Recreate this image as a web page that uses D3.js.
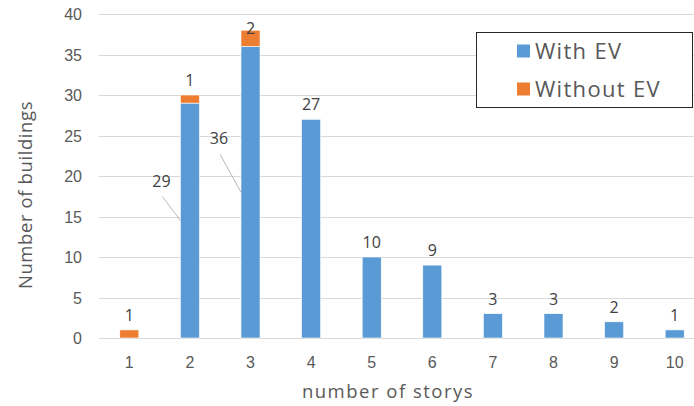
<!DOCTYPE html>
<html>
<head>
<meta charset="utf-8">
<script src="https://cdn.jsdelivr.net/npm/d3@7/dist/d3.min.js"></script>
<style>
  html, body { margin: 0; padding: 0; background: #fff; }
  svg { display: block; font-family: "Open Sans", "Noto Sans", sans-serif; }
</style>
</head>
<body>
<svg id="chart" width="694" height="406"></svg>
<script>
// Building counts by number of storys
const stories = ["1", "2", "3", "4", "5", "6", "7", "8", "9", "10"];
const withEV = [0, 29, 36, 27, 10, 9, 3, 3, 2, 1];
const withoutEV = [1, 1, 2, 0, 0, 0, 0, 0, 0, 0];
const seriesNames = ["With EV", "Without EV"];
const yTicks = [0, 5, 10, 15, 20, 25, 30, 35, 40];

const colors = { "With EV": "#5B9BD5", "Without EV": "#ED7D31" };

const svg = d3.select("#chart");
const W = 694, H = 406;
const plot = { left: 99, right: 705, top: 14, bottom: 338 };

const x = d3.scaleBand().domain(stories).range([plot.left, plot.right]).paddingInner(0.686).paddingOuter(0.343);
const y = d3.scaleLinear().domain([0, 40]).range([plot.bottom, plot.top]);

// gridlines
svg.append("g").selectAll("line").data(yTicks).join("line")
  .attr("x1", plot.left).attr("x2", W)
  .attr("y1", d => Math.round(y(d)) + 0.5).attr("y2", d => Math.round(y(d)) + 0.5)
  .attr("stroke", "#D9D9D9").attr("stroke-width", 1);

// y axis labels
const yAxis = svg.append("g").attr("transform", `translate(82,0)`)
  .call(d3.axisLeft(y).tickValues(yTicks).tickSize(0).tickPadding(0));
yAxis.select(".domain").remove();
yAxis.selectAll("text").attr("fill", "#595959").attr("font-size", 16).attr("dy", "0.35em");

// x axis labels
const xAxis = svg.append("g").attr("transform", `translate(0,${plot.bottom})`)
  .call(d3.axisBottom(x).tickSize(0).tickPadding(0));
xAxis.select(".domain").remove();
xAxis.selectAll("text").attr("fill", "#595959").attr("font-size", 16).attr("dy", "1.85em");

// stacked bars
const rows = stories.map((s, i) => ({ story: s, "With EV": withEV[i], "Without EV": withoutEV[i] }));
const stack = d3.stack().keys(seriesNames)(rows);

svg.append("g").selectAll("g").data(stack).join("g")
  .attr("fill", d => colors[d.key])
  .selectAll("rect").data(d => d.filter(p => p[1] > p[0])).join("rect")
  .attr("x", d => x(d.data.story))
  .attr("width", x.bandwidth())
  .attr("y", d => y(d[1]))
  .attr("height", d => y(d[0]) - y(d[1]))
  .attr("stroke", "#fff").attr("stroke-width", 0.6);

// value labels
const labelColor = "#404040";
const labels = svg.append("g").attr("font-size", 16).attr("fill", labelColor).attr("text-anchor", "middle");

// labels for segments that sit on top of a bar
stack.forEach(layer => {
  layer.forEach((p, i) => {
    const v = p[1] - p[0];
    if (v <= 0) return;
    const isTop = p[1] === withEV[i] + withoutEV[i];
    const cx = x(p.data.story) + x.bandwidth() / 2;
    if (isTop) {
      labels.append("text")
        .attr("x", cx)
        .attr("y", Math.max(y(p[1]) - 9, 34))
        .text(v);
    }
  });
});

// labels for lower segments, drawn beside the bar with a leader line
const leaderOffsets = { "2": [-18, -24], "3": [-21, -38] };
stack[0].forEach((p, i) => {
  const v = p[1] - p[0];
  if (v <= 0 || withoutEV[i] === 0) return;
  const off = leaderOffsets[p.data.story] || [-20, -30];
  const ex = x(p.data.story);
  const ey = y((p[0] + p[1]) / 2);
  svg.append("line")
    .attr("x1", ex + off[0]).attr("y1", ey + off[1])
    .attr("x2", ex).attr("y2", ey)
    .attr("stroke", "#A6A6A6").attr("stroke-width", 0.8);
  labels.append("text")
    .attr("x", ex + off[0] - 1)
    .attr("y", ey + off[1] - 10)
    .text(v);
});

// axis titles
svg.append("text")
  .attr("transform", `translate(32,195) rotate(-90)`)
  .attr("text-anchor", "middle")
  .attr("font-size", 18.5).attr("fill", "#595959")
  .attr("letter-spacing", 0.6)
  .text("Number of buildings");

svg.append("text")
  .attr("x", 388).attr("y", 398)
  .attr("text-anchor", "middle")
  .attr("font-size", 18.5).attr("fill", "#595959")
  .attr("letter-spacing", 1.5)
  .text("number of storys");

// legend
const legend = svg.append("g");
legend.append("rect")
  .attr("x", 476.5).attr("y", 32.5).attr("width", 216).attr("height", 75)
  .attr("fill", "#fff").attr("stroke", "#262626").attr("stroke-width", 1);
seriesNames.forEach((name, i) => {
  const ly = 51 + i * 38;
  legend.append("rect")
    .attr("x", 517).attr("y", ly - 6.5).attr("width", 13).attr("height", 13)
    .attr("fill", colors[name]);
  legend.append("text")
    .attr("x", 535).attr("y", ly).attr("dy", "0.36em")
    .attr("font-size", 22).attr("fill", "#595959")
    .attr("letter-spacing", 1.3)
    .text(name);
});
</script>
</body>
</html>
